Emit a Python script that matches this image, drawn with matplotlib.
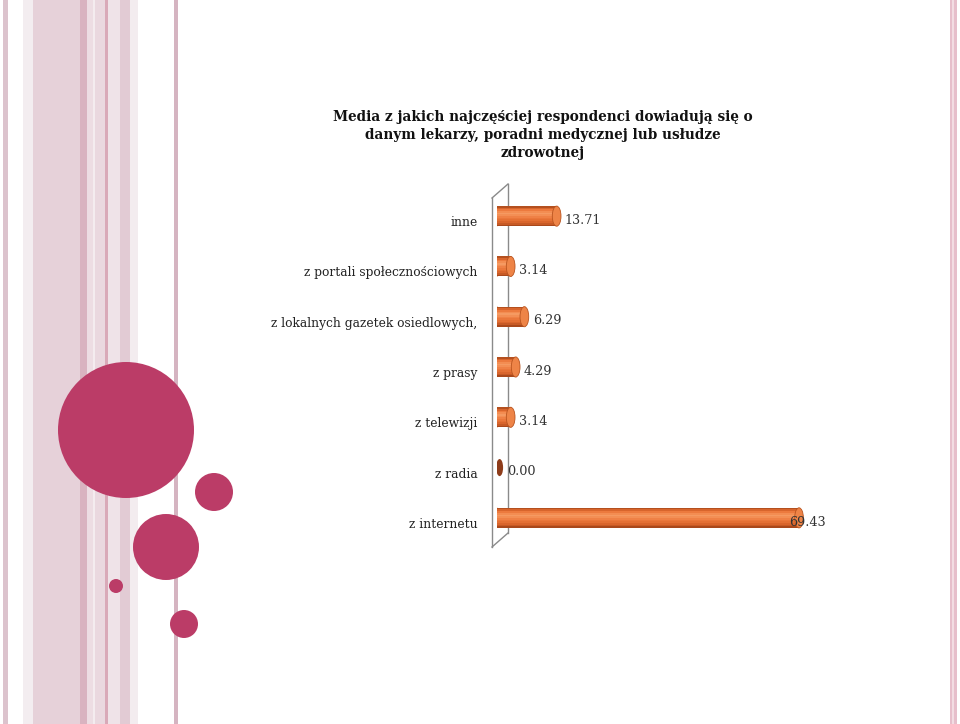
import matplotlib
matplotlib.use("Agg")
import matplotlib.pyplot as plt
from matplotlib.patches import Rectangle, Circle, Ellipse
from matplotlib.transforms import ScaledTranslation

# data
categories = ["inne", "z portali społecznościowych", "z lokalnych gazetek osiedlowych,",
              "z prasy", "z telewizji", "z radia", "z internetu"]
values = [13.71, 3.14, 6.29, 4.29, 3.14, 0.00, 69.43]
title = ("Media z jakich najczęściej respondenci dowiadują się o\n"
         "danym lekarzy, poradni medycznej lub usłudze\nzdrowotnej")

plt.rcParams['font.family'] = ['DejaVu Serif']

fig = plt.figure(figsize=(9.6, 7.24), dpi=100)

# background decoration in pixel coordinates
bg = fig.add_axes([0, 0, 1, 1], zorder=0)
bg.set_xlim(0, 960)
bg.set_ylim(724, 0)
bg.axis('off')

stripes = [(3, 8, '#dcc3cd'), (23, 33, '#f3edf0'), (33, 80, '#e6d1d9'),
           (80, 87, '#d9b3c0'), (87, 93, '#eddde3'), (93, 95, '#f4ecef'),
           (95, 105, '#ead8df'), (105, 108, '#d9a9b8'), (108, 120, '#efe3e8'),
           (120, 130, '#e2cbd4'), (130, 138, '#f3ecef'), (174, 178, '#d5b4c1'),
           (950, 952, '#e6bfcb'), (952, 954, '#f2dde3'), (954, 957, '#e6bfcb')]
for x0, x1, c in stripes:
    bg.add_patch(Rectangle((x0, 0), x1 - x0, 724, color=c, lw=0))

circles = [(126, 430, 68), (214, 492, 19), (166, 547, 33), (116, 586, 7), (184, 624, 14)]
for cx, cy, r in circles:
    bg.add_patch(Circle((cx, cy), r, color='#bb3c67', lw=0))

# 3d wall outline
wall = '#8a8a8a'
bg.plot([492, 492], [198, 547], color=wall, lw=1)
bg.plot([508, 508], [184, 533], color=wall, lw=1)
bg.plot([492, 508], [198, 184], color=wall, lw=1)
bg.plot([492, 508], [547, 533], color=wall, lw=1)

bg.text(543, 135, title, ha='center', va='center', fontsize=9.8,
        fontweight='bold', linespacing=1.38, color='#111111')

# chart
ax = fig.add_axes([497 / 960, 1 - 543 / 724, 435 / 960, 352 / 724], zorder=1)
ax.patch.set_alpha(0)
ax.set_xlim(0, 100)
ax.set_ylim(len(categories) - 0.5, -0.5)
for s in ax.spines.values():
    s.set_visible(False)
ax.set_xticks([])
ax.set_yticks(range(len(categories)))
ax.set_yticklabels(categories, fontsize=8.8, color='#222222')
ax.tick_params(axis='y', length=0, pad=14)
for lab in ax.get_yticklabels():
    lab.set_transform(lab.get_transform() + ScaledTranslation(0, -5 / 100, fig.dpi_scale_trans))

h = 0.4
grad = ['#b4501f', '#d8652c', '#ec7a3e', '#f38d52', '#f59a62', '#f38f55',
        '#ef8146', '#ea773b', '#e47034', '#d9652c', '#c75a25', '#a9481b']
n = len(grad)
cap_w = 2.0
for i, v in enumerate(values):
    if v == 0:
        ax.add_patch(Ellipse((0.6, i), cap_w * 0.8, h * 0.85, color='#8e3c1a', lw=0, zorder=3))
    else:
        ax.add_patch(Ellipse((0, i), cap_w, h, color='#d8652c', lw=0, zorder=2))
        for k, c in enumerate(grad):
            ax.barh(i - h / 2 + (k + 0.5) * h / n, v, height=h / n, color=c, lw=0, zorder=3)
        ax.add_patch(Ellipse((v, i), cap_w, h, facecolor='#ee8447', edgecolor='#b9541f',
                             lw=0.6, zorder=4))
    dx = -7 if v == max(values) else 6
    if v == 0:
        dx = 7
    ax.annotate(f"{v:.2f}", (v, i), xytext=(dx, -3), textcoords='offset points',
                ha='left', va='center', fontsize=9.2, color='#333333', zorder=5)

fig.savefig('out.png', dpi=100)
